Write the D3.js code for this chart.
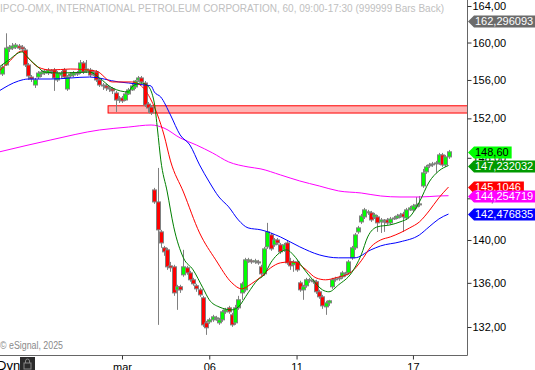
<!DOCTYPE html>
<html>
<head>
<meta charset="utf-8">
<script src="https://cdn.jsdelivr.net/npm/d3@7"></script>
<style>
body { margin: 0; background: #fff; }
svg { display: block; font-family: "Liberation Sans", Arial, sans-serif; }
</style>
</head>
<body>
<script>
// hourly bars, index 0..139
var opens = [156.84,156.63,157.59,159.3,159.4,159.5,159.62,159.5,159.19,157.59,
  156.31,155.47,156.31,156.63,156.73,156.73,156.94,157.05,156.0,156.52,
  157.05,155.05,156.42,156.52,156.63,156.84,157.8,156.94,157.05,156.63,
  156.84,156.0,155.47,155.37,155.16,155.05,154.63,153.9,154.11,153.9,
  154.53,154.95,155.26,156.0,156.21,155.68,153.48,153.17,144.82,143.65,
  140.77,139.26,139.07,137.57,137.48,135.36,135.64,136.74,137.39,136.92,
  136.28,135.73,135.36,134.63,132.37,132.46,132.64,132.73,132.37,132.64,
  133.36,133.72,133.09,132.37,133.72,135.08,135.36,138.04,138.04,137.94,
  137.94,137.48,136.83,139.35,140.48,139.54,140.0,139.54,139.07,139.72,
  137.94,137.67,137.94,136.0,135.36,135.73,136.19,136.19,136.1,135.18,
  134.72,133.81,134.17,135.64,136.28,136.37,136.56,136.74,136.92,138.32,
  139.26,140.77,141.72,142.2,142.59,142.59,142.2,142.2,141.72,141.81,
  141.91,141.63,142.0,142.1,142.29,142.49,142.1,142.88,142.88,143.17,
  143.36,145.21,146.6,147.19,147.29,147.39,147.49,148.29,147.29,148.09];
var highs = [157.27,157.7,161.0,159.73,159.95,159.95,159.84,159.73,159.4,157.8,
  156.52,156.21,156.94,157.05,157.16,157.27,157.16,157.27,156.94,156.94,
  157.27,156.52,156.84,156.94,156.94,158.12,158.01,158.12,157.27,157.05,
  157.05,156.21,155.68,155.58,155.37,155.26,154.85,154.32,154.32,154.74,
  155.16,155.58,156.0,156.42,156.42,155.89,153.69,153.38,145.02,146.99,
  140.96,139.44,139.26,137.94,137.67,135.82,135.82,139.07,137.57,137.11,
  136.46,135.91,135.55,134.81,132.55,132.82,133.09,133.0,132.82,133.54,
  133.72,133.9,133.27,133.99,134.81,136.1,138.32,138.32,138.23,138.23,
  138.13,137.67,139.35,141.63,140.67,140.19,140.19,139.72,139.72,139.91,
  138.32,138.13,138.13,136.19,135.82,136.46,136.46,136.37,136.28,135.36,
  134.9,134.36,134.45,136.46,136.56,136.65,137.11,137.02,138.13,139.44,
  140.67,141.34,142.49,143.07,142.88,142.78,142.59,142.39,142.1,142.0,
  142.1,142.2,142.29,142.49,142.59,142.69,143.07,143.26,143.46,144.13,
  144.23,146.89,147.29,147.49,147.59,147.69,148.49,148.49,148.29,148.79];
var lows = [156.63,156.42,157.48,158.98,159.19,159.3,159.19,158.98,157.37,156.0,
  155.79,155.16,156.1,156.31,156.52,156.52,156.63,154.85,155.79,156.21,
  156.1,154.85,156.21,156.31,156.42,156.63,156.63,156.73,156.31,156.42,
  155.79,155.26,154.95,154.85,154.74,154.53,152.66,153.59,153.59,153.8,
  154.42,154.85,155.05,155.79,155.58,153.17,152.56,152.35,143.46,132.19,
  139.26,138.51,137.2,137.02,134.81,133.54,135.08,136.56,136.74,136.1,
  135.73,135.18,134.72,132.01,131.3,132.28,132.46,132.55,132.19,132.46,
  133.18,133.18,132.01,132.19,133.54,134.45,135.18,137.85,137.76,137.76,
  137.67,136.65,136.65,139.16,138.98,139.35,139.54,138.69,138.88,137.67,
  137.2,137.02,137.02,135.18,134.45,135.55,136.0,135.91,134.99,134.54,
  133.63,133.09,133.9,135.45,136.1,136.19,136.37,136.56,136.74,138.13,
  139.07,140.58,141.53,142.0,142.39,141.72,142.0,140.77,140.67,140.77,
  141.44,141.44,141.91,142.0,142.1,140.77,141.91,142.78,142.69,142.98,
  143.17,145.02,146.4,146.99,147.09,146.5,147.29,147.09,147.09,147.89];
var closes = [157.05,157.37,159.4,159.5,159.62,159.73,159.4,159.3,157.59,156.42,
  156.1,156.0,156.73,156.84,156.94,157.05,156.84,156.21,156.73,156.73,
  156.31,156.31,156.63,156.73,156.73,157.8,156.84,157.16,156.52,156.84,
  156.0,155.47,155.37,155.16,155.05,154.85,153.9,154.0,153.8,154.53,
  154.95,155.37,155.89,156.21,155.79,153.38,153.07,152.56,143.65,140.96,
  139.72,138.88,137.48,137.39,135.08,135.64,135.36,137.48,136.92,136.28,
  135.91,135.45,134.9,132.19,131.93,132.64,132.91,132.82,132.64,133.36,
  133.54,133.36,132.19,133.72,134.45,135.91,138.13,138.13,137.94,138.04,
  137.85,136.83,139.16,140.77,139.16,140.0,139.72,138.88,139.54,137.85,
  137.57,137.94,137.2,135.36,135.64,136.28,136.28,136.1,135.18,134.72,
  133.9,134.17,134.36,136.28,136.37,136.46,136.92,136.83,137.94,139.26,
  140.48,141.15,142.29,142.88,142.69,141.91,142.39,141.63,141.91,141.72,
  141.63,142.0,142.1,142.29,142.39,142.2,142.88,143.07,143.26,143.36,
  143.46,146.5,147.09,147.29,147.39,147.49,148.29,147.29,148.09,148.6];

// study lines, [bar index, value]
var greenMA = [[0,157.37],[3,158.12],[7,158.98],[9,158.33],[12,157.37],[14,156.84],[19,156.73],
  [28,156.84],[31,156.21],[35,155.16],[40,154.74],[41,155.26],[44,155.68],[46,155.37],[48,153.59],
  [49,150.81],[50,147.79],[52,144.62],[54,141.25],[57,138.32],[60,137.2],[63,135.55],[65,134.45],
  [68,133.81],[72,133.54],[74,133.81],[77,135.08],[80,136.28],[82,136.74],[84,137.85],[86,138.6],
  [89,139.07],[91,138.6],[94,137.39],[97,136.28],[100,135.36],[102,135.18],[105,135.82],[109,136.92],
  [112,138.6],[114,140.29],[117,141.25],[121,141.44],[124,141.72],[127,142.2],[130,143.65],
  [133,145.6],[136,146.69],[139,147.232032]];
var redMA = [[0,156.94],[3,157.91],[7,159.08],[9,158.33],[12,157.37],[16,157.05],[22,157.16],
  [30,156.94],[35,155.79],[41,155.79],[44,155.37],[47,153.9],[49,152.35],[51,150.3],[53,147.69],
  [57,144.62],[62,140.67],[67,138.13],[72,136.0],[75,135.45],[78,135.91],[81,136.56],[84,137.39],
  [87,137.85],[90,137.94],[92,137.85],[95,137.2],[98,136.46],[101,136.28],[104,136.46],[109,137.02],
  [112,138.04],[115,139.35],[118,140.0],[121,140.29],[124,140.67],[127,141.15],[130,141.72],
  [133,142.78],[136,144.04],[139,145.1046]];
var blueMA = [[0,154.85],[6,155.89],[9,156.1],[16,156.1],[28,156.31],[37,155.79],[40,155.68],
  [45,155.47],[47,155.37],[48,154.74],[50,154.21],[53,152.35],[56,150.3],[59,149.29],[62,147.29],
  [65,145.6],[68,144.13],[71,143.17],[74,141.91],[77,141.15],[81,140.96],[87,140.29],[93,139.35],
  [99,138.6],[105,138.32],[110,138.32],[115,139.07],[118,139.44],[124,139.82],[130,140.48],
  [133,141.25],[136,142.0],[139,142.476835]];
var magentaMA = [[0,148.59],[16,149.8],[31,150.81],[40,151.11],[47,151.32],[51,151.01],[56,150.0],
  [61,149.29],[66,148.49],[71,147.59],[77,147.09],[81,146.89],[87,146.3],[93,145.7],[99,145.21],
  [105,144.72],[112,144.52],[118,144.23],[124,144.13],[130,144.13],[136,144.23],[139,144.254719]];

// resistance zone
var zoneStart = 33.7, zoneTop = 153.3, zoneBottom = 152.55;

// axes
var priceTicks = [132, 136, 140, 144, 148, 152, 156, 160, 164];
var dayTickIdx = [38, 65, 92, 128];
var dayTickLabels = ["mar", "06", "11", "17"];

// value tags on the price axis
var tagValues = [162.296093, 148.60, 147.232032, 145.1046, 144.254719, 142.476835];
var tagLabels = ["162,296093", "148,60", "147,232032", "145,1046", "144,254719", "142,476835"];
var tagFill = ["#6b6b6b", "#00ff00", "#009a00", "#ff0000", "#ff00ff", "#0000ff"];
var tagText = ["#fff", "#000", "#fff", "#fff", "#fff", "#fff"];

var width = 535, height = 370,
    plotW = 467, plotH = 355;

var x = d3.scaleLinear().domain([0, 139]).range([-0.86, 448.5]);
var y = d3.scaleLog().domain([132, 164]).range([327, 6]);
var bw = 4; // candle body width

var svg = d3.select("body").append("svg")
  .attr("width", width)
  .attr("height", height);

svg.append("defs").append("clipPath").attr("id", "plotclip")
  .append("rect").attr("x", 0).attr("y", 0).attr("width", plotW).attr("height", plotH);

// title + copyright
svg.append("text")
  .attr("x", 0).attr("y", 12)
  .attr("textLength", 444)
  .attr("lengthAdjust", "spacingAndGlyphs")
  .style("font-size", "11px").style("fill", "#c0c0c0")
  .text("IPCO-OMX, INTERNATIONAL PETROLEUM CORPORATION, 60, 09:00-17:30 (999999 Bars Back)");

svg.append("text")
  .attr("x", 0).attr("y", 349)
  .attr("textLength", 63)
  .attr("lengthAdjust", "spacingAndGlyphs")
  .style("font-size", "10px").style("fill", "#8a8a8a")
  .text("\u00a9 eSignal, 2025");

var plot = svg.append("g").attr("clip-path", "url(#plotclip)");

// zone
plot.append("rect")
  .attr("x", x(zoneStart))
  .attr("y", y(zoneTop))
  .attr("width", plotW - x(zoneStart) + 2)
  .attr("height", y(zoneBottom) - y(zoneTop))
  .style("fill", "#ffb4b4")
  .style("stroke", "#ff0000")
  .style("stroke-width", 1);

// candles
var bars = d3.range(opens.length).map(function(i) {
  return {i: i, o: opens[i], h: highs[i], l: lows[i], c: closes[i]};
});

var candle = plot.selectAll(".candle")
  .data(bars)
  .enter().append("g")
  .attr("class", "candle");

candle.append("line")
  .attr("x1", function(d) { return Math.round(x(d.i)) + 0.5; })
  .attr("x2", function(d) { return Math.round(x(d.i)) + 0.5; })
  .attr("y1", function(d) { return y(d.h); })
  .attr("y2", function(d) { return y(d.l); })
  .style("stroke", "#808080")
  .style("stroke-width", 1);

candle.append("rect")
  .attr("x", function(d) { return Math.round(x(d.i)) - bw / 2 + 0.5; })
  .attr("y", function(d) { return y(Math.max(d.o, d.c)); })
  .attr("width", bw)
  .attr("height", function(d) { return Math.max(1, Math.abs(y(d.o) - y(d.c))); })
  .style("fill", function(d) { return d.c >= d.o ? "#00ff00" : "#ff0000"; })
  .style("stroke", "#808080")
  .style("stroke-width", 1);

// studies
var line = d3.line()
  .x(function(d) { return x(d[0]); })
  .y(function(d) { return y(d[1]); })
  .curve(d3.curveMonotoneX);

[[magentaMA, "#ff00ff"], [blueMA, "#0000ff"], [redMA, "#ff0000"], [greenMA, "#008000"]]
  .forEach(function(s) {
    plot.append("path")
      .datum(s[0])
      .attr("d", line)
      .style("fill", "none")
      .style("stroke", s[1])
      .style("stroke-width", 1);
  });

// frame
svg.append("line").attr("x1", plotW + 0.5).attr("x2", plotW + 0.5).attr("y1", 0).attr("y2", plotH + 0.5)
  .style("stroke", "#666");
svg.append("line").attr("x1", 0).attr("x2", plotW + 0.5).attr("y1", plotH + 0.5).attr("y2", plotH + 0.5)
  .style("stroke", "#666");

// price axis
var yAxis = d3.axisRight(y)
  .tickValues(priceTicks)
  .tickSize(4)
  .tickPadding(1)
  .tickFormat(function(d) { return d.toFixed(2).replace(".", ","); });

var ya = svg.append("g")
  .attr("transform", "translate(" + (plotW + 0.5) + ",0)")
  .call(yAxis);
ya.select(".domain").remove();
ya.selectAll("line").style("stroke", "#333");
ya.selectAll("text").style("font-size", "11px").style("fill", "#000")
  .style("font-family", "'Liberation Sans', Arial, sans-serif");

// day axis
var xAxis = d3.axisBottom(x)
  .tickValues(dayTickIdx)
  .tickSize(4)
  .tickPadding(4)
  .tickFormat(function(d, i) { return dayTickLabels[i]; });

var xa = svg.append("g")
  .attr("transform", "translate(0," + (plotH + 0.5) + ")")
  .call(xAxis);
xa.select(".domain").remove();
xa.selectAll("line").style("stroke", "#333");
xa.selectAll("text").style("font-size", "11px").style("fill", "#000")
  .style("font-family", "'Liberation Sans', Arial, sans-serif");

// "Dyn" + lock button
svg.append("text").attr("x", -3).attr("y", 370)
  .style("font-size", "13px").style("fill", "#000").text("Dyn");
svg.append("rect").attr("x", 20).attr("y", 357).attr("width", 15).attr("height", 14)
  .style("fill", "#2b2b2b");
svg.append("rect").attr("x", 24).attr("y", 363).attr("width", 7).attr("height", 6)
  .style("fill", "none").style("stroke", "#888");
svg.append("path").attr("d", "M25.5,363 v-2 a2,2 0 0 1 4,0 v2")
  .style("fill", "none").style("stroke", "#888");

// value tags
var tags = svg.append("g");
tagValues.forEach(function(v, i) {
  var yc = Math.round(y(v)) + 0.5;
  var g = tags.append("g");
  var path = g.append("path");
  var t = g.append("text")
    .attr("x", 475)
    .attr("y", yc)
    .attr("dy", "0.36em")
    .style("font-size", "11px")
    .style("fill", tagText[i])
    .text(tagLabels[i]);
  var w = t.node().getComputedTextLength() + 3;
  path.attr("d", "M468," + yc + " L474," + (yc - 6) + " H" + (475 + w) + " V" + (yc + 6) + " H474 Z")
    .style("fill", tagFill[i]);
});
</script>
</body>
</html>
